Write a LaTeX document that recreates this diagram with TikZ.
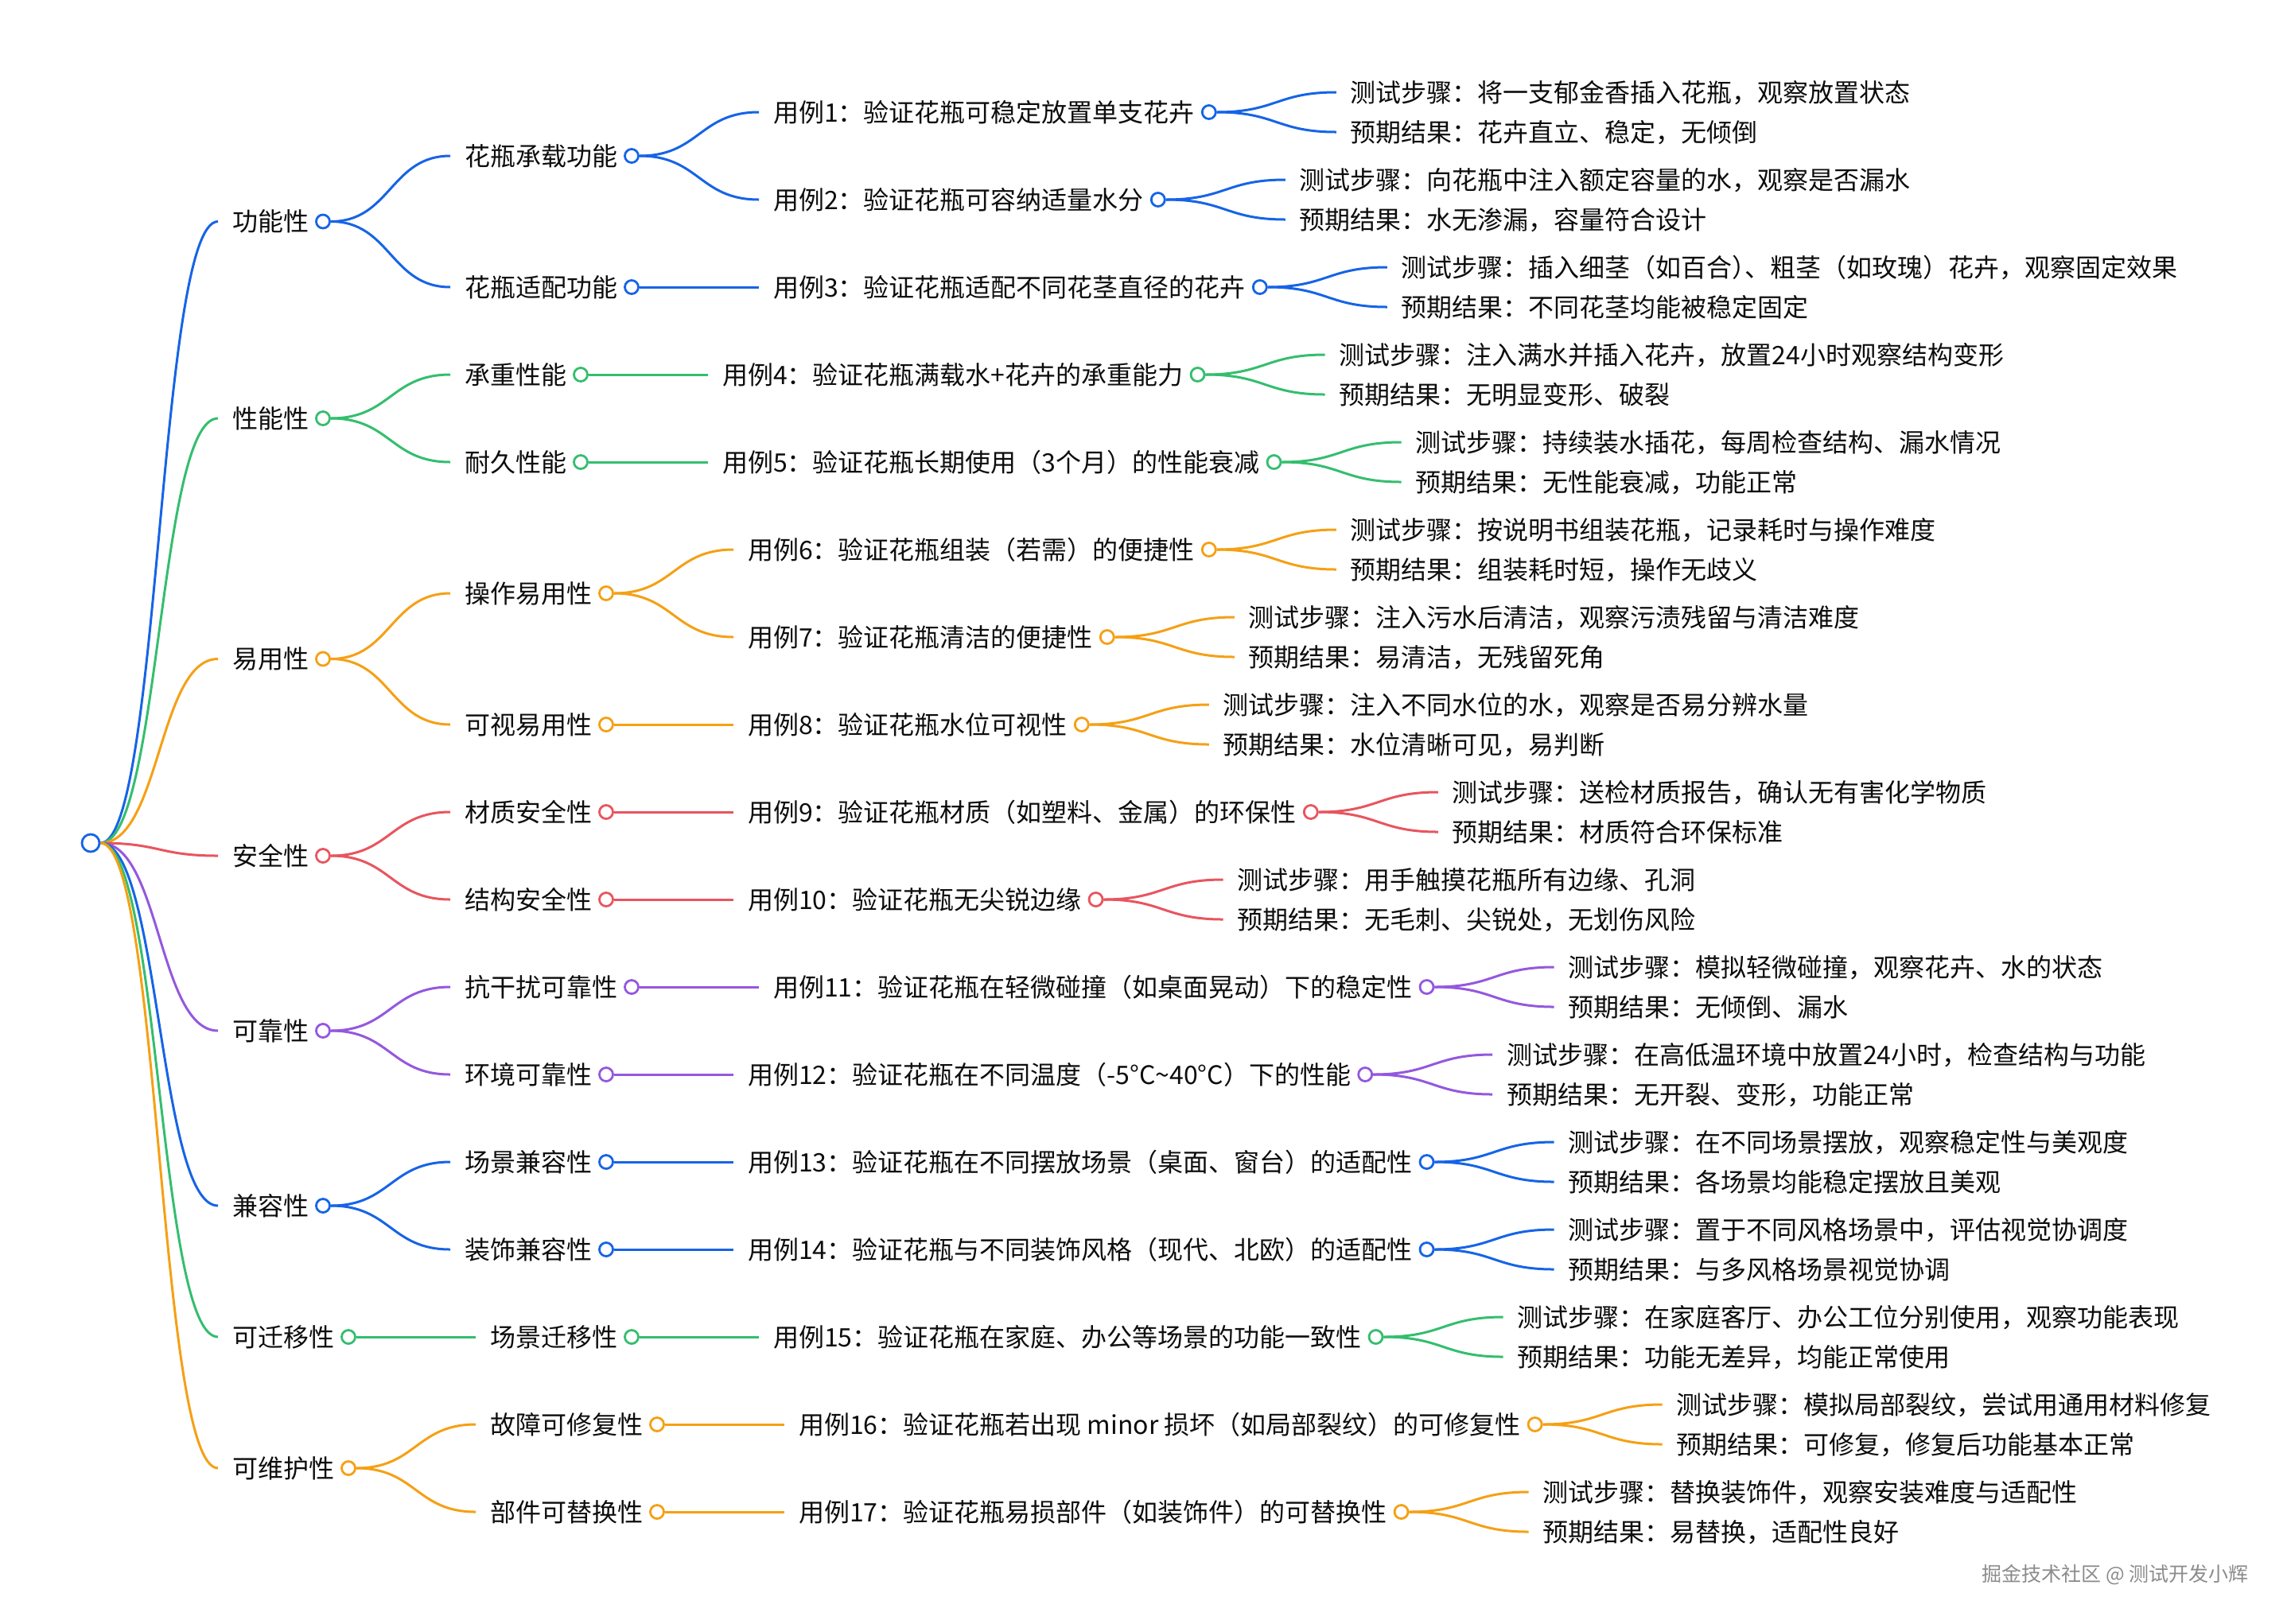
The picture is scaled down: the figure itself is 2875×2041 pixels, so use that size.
\documentclass[tikz,border=0pt]{standalone}
\usepackage{fontspec}
\newfontfamily\mapfont{Noto Sans CJK SC}
\usetikzlibrary{calc}

\definecolor{mapblue}{RGB}{22,100,230}
\definecolor{mapgreen}{RGB}{52,190,110}
\definecolor{maporange}{RGB}{245,160,20}
\definecolor{mapred}{RGB}{232,85,95}
\definecolor{mappurple}{RGB}{148,88,222}

\begin{document}
\begin{tikzpicture}[x=0.5pt,y=-0.5pt]

\tikzset{
  map text/.style={
    anchor=west,
    inner sep=0pt,
    outer xsep=9pt,
    outer ysep=0pt,
    text height=12.8pt,
    text depth=0.8pt,
    text=black!95,
    font=\mapfont\fontsize{16pt}{20pt}\selectfont,
  },
  map dot/.style={
    circle,
    fill=white,
    line width=1.4pt,
    minimum size=8.5pt,
    inner sep=0pt,
  },
  map link/.style={
    line width=1.5pt,
    to path={.. controls +(75,0) and +(-75,0) .. (\tikztotarget)},
  },
  blue dot/.style={map dot, draw=mapblue},
  green dot/.style={map dot, draw=mapgreen},
  orange dot/.style={map dot, draw=maporange},
  red dot/.style={map dot, draw=mapred},
  purple dot/.style={map dot, draw=mappurple},
  blue link/.style={map link, draw=mapblue},
  green link/.style={map link, draw=mapgreen},
  orange link/.style={map link, draw=maporange},
  red link/.style={map link, draw=mapred},
  purple link/.style={map link, draw=mappurple},
}

\fill[white] (0,0) rectangle (2875,2041);
\useasboundingbox (0,0) rectangle (2875,2041);

% Level 0: root
\node[blue dot, minimum size=11pt] (root) at (114,1060) {};

% Level 1: quality categories
\node[map text] (func) at ($(root)+(160,-781.5)$) {功能性};
\node[blue dot] (funcdot) at (func.east) {};
\node[map text] (perf) at ($(root)+(160,-534)$) {性能性};
\node[green dot] (perfdot) at (perf.east) {};
\node[map text] (usab) at ($(root)+(160,-231.5)$) {易用性};
\node[orange dot] (usabdot) at (usab.east) {};
\node[map text] (safe) at ($(root)+(160,16)$) {安全性};
\node[red dot] (safedot) at (safe.east) {};
\node[map text] (reli) at ($(root)+(160,236)$) {可靠性};
\node[purple dot] (relidot) at (reli.east) {};
\node[map text] (comp) at ($(root)+(160,456)$) {兼容性};
\node[blue dot] (compdot) at (comp.east) {};
\node[map text] (migr) at ($(root)+(160,621)$) {可迁移性};
\node[green dot] (migrdot) at (migr.east) {};
\node[map text] (main) at ($(root)+(160,786)$) {可维护性};
\node[orange dot] (maindot) at (main.east) {};

% Level 2: sub-features
\node[map text] (load) at ($(funcdot)+(160,-82.5)$) {花瓶承载功能};
\node[blue dot] (loaddot) at (load.east) {};
\node[map text] (fit) at ($(funcdot)+(160,82.5)$) {花瓶适配功能};
\node[blue dot] (fitdot) at (fit.east) {};
\node[map text] (bear) at ($(perfdot)+(160,-55)$) {承重性能};
\node[green dot] (beardot) at (bear.east) {};
\node[map text] (dura) at ($(perfdot)+(160,55)$) {耐久性能};
\node[green dot] (duradot) at (dura.east) {};
\node[map text] (oper) at ($(usabdot)+(160,-82.5)$) {操作易用性};
\node[orange dot] (operdot) at (oper.east) {};
\node[map text] (visu) at ($(usabdot)+(160,82.5)$) {可视易用性};
\node[orange dot] (visudot) at (visu.east) {};
\node[map text] (matl) at ($(safedot)+(160,-55)$) {材质安全性};
\node[red dot] (matldot) at (matl.east) {};
\node[map text] (strc) at ($(safedot)+(160,55)$) {结构安全性};
\node[red dot] (strcdot) at (strc.east) {};
\node[map text] (anti) at ($(relidot)+(160,-55)$) {抗干扰可靠性};
\node[purple dot] (antidot) at (anti.east) {};
\node[map text] (envr) at ($(relidot)+(160,55)$) {环境可靠性};
\node[purple dot] (envrdot) at (envr.east) {};
\node[map text] (scen) at ($(compdot)+(160,-55)$) {场景兼容性};
\node[blue dot] (scendot) at (scen.east) {};
\node[map text] (deco) at ($(compdot)+(160,55)$) {装饰兼容性};
\node[blue dot] (decodot) at (deco.east) {};
\node[map text] (move) at ($(migrdot)+(160,0)$) {场景迁移性};
\node[green dot] (movedot) at (move.east) {};
\node[map text] (fix) at ($(maindot)+(160,-55)$) {故障可修复性};
\node[orange dot] (fixdot) at (fix.east) {};
\node[map text] (part) at ($(maindot)+(160,55)$) {部件可替换性};
\node[orange dot] (partdot) at (part.east) {};

% Level 3: test cases
\node[map text] (uc1) at ($(loaddot)+(160,-55)$) {用例1：验证花瓶可稳定放置单支花卉};
\node[blue dot] (uc1dot) at (uc1.east) {};
\node[map text] (uc2) at ($(loaddot)+(160,55)$) {用例2：验证花瓶可容纳适量水分};
\node[blue dot] (uc2dot) at (uc2.east) {};
\node[map text] (uc3) at ($(fitdot)+(160,0)$) {用例3：验证花瓶适配不同花茎直径的花卉};
\node[blue dot] (uc3dot) at (uc3.east) {};
\node[map text] (uc4) at ($(beardot)+(160,0)$) {用例4：验证花瓶满载水+花卉的承重能力};
\node[green dot] (uc4dot) at (uc4.east) {};
\node[map text] (uc5) at ($(duradot)+(160,0)$) {用例5：验证花瓶长期使用（3个月）的性能衰减};
\node[green dot] (uc5dot) at (uc5.east) {};
\node[map text] (uc6) at ($(operdot)+(160,-55)$) {用例6：验证花瓶组装（若需）的便捷性};
\node[orange dot] (uc6dot) at (uc6.east) {};
\node[map text] (uc7) at ($(operdot)+(160,55)$) {用例7：验证花瓶清洁的便捷性};
\node[orange dot] (uc7dot) at (uc7.east) {};
\node[map text] (uc8) at ($(visudot)+(160,0)$) {用例8：验证花瓶水位可视性};
\node[orange dot] (uc8dot) at (uc8.east) {};
\node[map text] (uc9) at ($(matldot)+(160,0)$) {用例9：验证花瓶材质（如塑料、金属）的环保性};
\node[red dot] (uc9dot) at (uc9.east) {};
\node[map text] (uc10) at ($(strcdot)+(160,0)$) {用例10：验证花瓶无尖锐边缘};
\node[red dot] (uc10dot) at (uc10.east) {};
\node[map text] (uc11) at ($(antidot)+(160,0)$) {用例11：验证花瓶在轻微碰撞（如桌面晃动）下的稳定性};
\node[purple dot] (uc11dot) at (uc11.east) {};
\node[map text] (uc12) at ($(envrdot)+(160,0)$) {用例12：验证花瓶在不同温度（-5°C\textasciitilde 40°C）下的性能};
\node[purple dot] (uc12dot) at (uc12.east) {};
\node[map text] (uc13) at ($(scendot)+(160,0)$) {用例13：验证花瓶在不同摆放场景（桌面、窗台）的适配性};
\node[blue dot] (uc13dot) at (uc13.east) {};
\node[map text] (uc14) at ($(decodot)+(160,0)$) {用例14：验证花瓶与不同装饰风格（现代、北欧）的适配性};
\node[blue dot] (uc14dot) at (uc14.east) {};
\node[map text] (uc15) at ($(movedot)+(160,0)$) {用例15：验证花瓶在家庭、办公等场景的功能一致性};
\node[green dot] (uc15dot) at (uc15.east) {};
\node[map text] (uc16) at ($(fixdot)+(160,0)$) {用例16：验证花瓶若出现 minor 损坏（如局部裂纹）的可修复性};
\node[orange dot] (uc16dot) at (uc16.east) {};
\node[map text] (uc17) at ($(partdot)+(160,0)$) {用例17：验证花瓶易损部件（如装饰件）的可替换性};
\node[orange dot] (uc17dot) at (uc17.east) {};

% Level 4: steps and expected results
\node[map text] (uc1s) at ($(uc1dot)+(160,-25)$) {测试步骤：将一支郁金香插入花瓶，观察放置状态};
\node[map text] (uc1r) at ($(uc1dot)+(160,25)$) {预期结果：花卉直立、稳定，无倾倒};
\node[map text] (uc2s) at ($(uc2dot)+(160,-25)$) {测试步骤：向花瓶中注入额定容量的水，观察是否漏水};
\node[map text] (uc2r) at ($(uc2dot)+(160,25)$) {预期结果：水无渗漏，容量符合设计};
\node[map text] (uc3s) at ($(uc3dot)+(160,-25)$) {测试步骤：插入细茎（如百合）\kern-0.5em、粗茎（如玫瑰）花卉，观察固定效果};
\node[map text] (uc3r) at ($(uc3dot)+(160,25)$) {预期结果：不同花茎均能被稳定固定};
\node[map text] (uc4s) at ($(uc4dot)+(160,-25)$) {测试步骤：注入满水并插入花卉，放置24小时观察结构变形};
\node[map text] (uc4r) at ($(uc4dot)+(160,25)$) {预期结果：无明显变形、破裂};
\node[map text] (uc5s) at ($(uc5dot)+(160,-25)$) {测试步骤：持续装水插花，每周检查结构、漏水情况};
\node[map text] (uc5r) at ($(uc5dot)+(160,25)$) {预期结果：无性能衰减，功能正常};
\node[map text] (uc6s) at ($(uc6dot)+(160,-25)$) {测试步骤：按说明书组装花瓶，记录耗时与操作难度};
\node[map text] (uc6r) at ($(uc6dot)+(160,25)$) {预期结果：组装耗时短，操作无歧义};
\node[map text] (uc7s) at ($(uc7dot)+(160,-25)$) {测试步骤：注入污水后清洁，观察污渍残留与清洁难度};
\node[map text] (uc7r) at ($(uc7dot)+(160,25)$) {预期结果：易清洁，无残留死角};
\node[map text] (uc8s) at ($(uc8dot)+(160,-25)$) {测试步骤：注入不同水位的水，观察是否易分辨水量};
\node[map text] (uc8r) at ($(uc8dot)+(160,25)$) {预期结果：水位清晰可见，易判断};
\node[map text] (uc9s) at ($(uc9dot)+(160,-25)$) {测试步骤：送检材质报告，确认无有害化学物质};
\node[map text] (uc9r) at ($(uc9dot)+(160,25)$) {预期结果：材质符合环保标准};
\node[map text] (uc10s) at ($(uc10dot)+(160,-25)$) {测试步骤：用手触摸花瓶所有边缘、孔洞};
\node[map text] (uc10r) at ($(uc10dot)+(160,25)$) {预期结果：无毛刺、尖锐处，无划伤风险};
\node[map text] (uc11s) at ($(uc11dot)+(160,-25)$) {测试步骤：模拟轻微碰撞，观察花卉、水的状态};
\node[map text] (uc11r) at ($(uc11dot)+(160,25)$) {预期结果：无倾倒、漏水};
\node[map text] (uc12s) at ($(uc12dot)+(160,-25)$) {测试步骤：在高低温环境中放置24小时，检查结构与功能};
\node[map text] (uc12r) at ($(uc12dot)+(160,25)$) {预期结果：无开裂、变形，功能正常};
\node[map text] (uc13s) at ($(uc13dot)+(160,-25)$) {测试步骤：在不同场景摆放，观察稳定性与美观度};
\node[map text] (uc13r) at ($(uc13dot)+(160,25)$) {预期结果：各场景均能稳定摆放且美观};
\node[map text] (uc14s) at ($(uc14dot)+(160,-25)$) {测试步骤：置于不同风格场景中，评估视觉协调度};
\node[map text] (uc14r) at ($(uc14dot)+(160,25)$) {预期结果：与多风格场景视觉协调};
\node[map text] (uc15s) at ($(uc15dot)+(160,-25)$) {测试步骤：在家庭客厅、办公工位分别使用，观察功能表现};
\node[map text] (uc15r) at ($(uc15dot)+(160,25)$) {预期结果：功能无差异，均能正常使用};
\node[map text] (uc16s) at ($(uc16dot)+(160,-25)$) {测试步骤：模拟局部裂纹，尝试用通用材料修复};
\node[map text] (uc16r) at ($(uc16dot)+(160,25)$) {预期结果：可修复，修复后功能基本正常};
\node[map text] (uc17s) at ($(uc17dot)+(160,-25)$) {测试步骤：替换装饰件，观察安装难度与适配性};
\node[map text] (uc17r) at ($(uc17dot)+(160,25)$) {预期结果：易替换，适配性良好};

% Edges root -> categories
\draw[blue link] (root.east) to (func.west);
\draw[green link] (root.east) to (perf.west);
\draw[orange link] (root.east) to (usab.west);
\draw[red link] (root.east) to (safe.west);
\draw[purple link] (root.east) to (reli.west);
\draw[blue link] (root.east) to (comp.west);
\draw[green link] (root.east) to (migr.west);
\draw[orange link] (root.east) to (main.west);

% Edges categories -> sub-features
\draw[blue link] (funcdot.east) to (load.west);
\draw[blue link] (funcdot.east) to (fit.west);
\draw[green link] (perfdot.east) to (bear.west);
\draw[green link] (perfdot.east) to (dura.west);
\draw[orange link] (usabdot.east) to (oper.west);
\draw[orange link] (usabdot.east) to (visu.west);
\draw[red link] (safedot.east) to (matl.west);
\draw[red link] (safedot.east) to (strc.west);
\draw[purple link] (relidot.east) to (anti.west);
\draw[purple link] (relidot.east) to (envr.west);
\draw[blue link] (compdot.east) to (scen.west);
\draw[blue link] (compdot.east) to (deco.west);
\draw[green link] (migrdot.east) to (move.west);
\draw[orange link] (maindot.east) to (fix.west);
\draw[orange link] (maindot.east) to (part.west);

% Edges sub-features -> test cases
\draw[blue link] (loaddot.east) to (uc1.west);
\draw[blue link] (loaddot.east) to (uc2.west);
\draw[blue link] (fitdot.east) to (uc3.west);
\draw[green link] (beardot.east) to (uc4.west);
\draw[green link] (duradot.east) to (uc5.west);
\draw[orange link] (operdot.east) to (uc6.west);
\draw[orange link] (operdot.east) to (uc7.west);
\draw[orange link] (visudot.east) to (uc8.west);
\draw[red link] (matldot.east) to (uc9.west);
\draw[red link] (strcdot.east) to (uc10.west);
\draw[purple link] (antidot.east) to (uc11.west);
\draw[purple link] (envrdot.east) to (uc12.west);
\draw[blue link] (scendot.east) to (uc13.west);
\draw[blue link] (decodot.east) to (uc14.west);
\draw[green link] (movedot.east) to (uc15.west);
\draw[orange link] (fixdot.east) to (uc16.west);
\draw[orange link] (partdot.east) to (uc17.west);

% Edges test cases -> steps / results
\draw[blue link] (uc1dot.east) to (uc1s.west);
\draw[blue link] (uc1dot.east) to (uc1r.west);
\draw[blue link] (uc2dot.east) to (uc2s.west);
\draw[blue link] (uc2dot.east) to (uc2r.west);
\draw[blue link] (uc3dot.east) to (uc3s.west);
\draw[blue link] (uc3dot.east) to (uc3r.west);
\draw[green link] (uc4dot.east) to (uc4s.west);
\draw[green link] (uc4dot.east) to (uc4r.west);
\draw[green link] (uc5dot.east) to (uc5s.west);
\draw[green link] (uc5dot.east) to (uc5r.west);
\draw[orange link] (uc6dot.east) to (uc6s.west);
\draw[orange link] (uc6dot.east) to (uc6r.west);
\draw[orange link] (uc7dot.east) to (uc7s.west);
\draw[orange link] (uc7dot.east) to (uc7r.west);
\draw[orange link] (uc8dot.east) to (uc8s.west);
\draw[orange link] (uc8dot.east) to (uc8r.west);
\draw[red link] (uc9dot.east) to (uc9s.west);
\draw[red link] (uc9dot.east) to (uc9r.west);
\draw[red link] (uc10dot.east) to (uc10s.west);
\draw[red link] (uc10dot.east) to (uc10r.west);
\draw[purple link] (uc11dot.east) to (uc11s.west);
\draw[purple link] (uc11dot.east) to (uc11r.west);
\draw[purple link] (uc12dot.east) to (uc12s.west);
\draw[purple link] (uc12dot.east) to (uc12r.west);
\draw[blue link] (uc13dot.east) to (uc13s.west);
\draw[blue link] (uc13dot.east) to (uc13r.west);
\draw[blue link] (uc14dot.east) to (uc14s.west);
\draw[blue link] (uc14dot.east) to (uc14r.west);
\draw[green link] (uc15dot.east) to (uc15s.west);
\draw[green link] (uc15dot.east) to (uc15r.west);
\draw[orange link] (uc16dot.east) to (uc16s.west);
\draw[orange link] (uc16dot.east) to (uc16r.west);
\draw[orange link] (uc17dot.east) to (uc17s.west);
\draw[orange link] (uc17dot.east) to (uc17r.west);

% Watermark
\node[anchor=east, inner sep=0pt, text=black!45,
      font=\mapfont\fontsize{12.5pt}{15pt}\selectfont] (mark) at (2827,1980) {掘金技术社区 @ 测试开发小辉};

\end{tikzpicture}
\end{document}
